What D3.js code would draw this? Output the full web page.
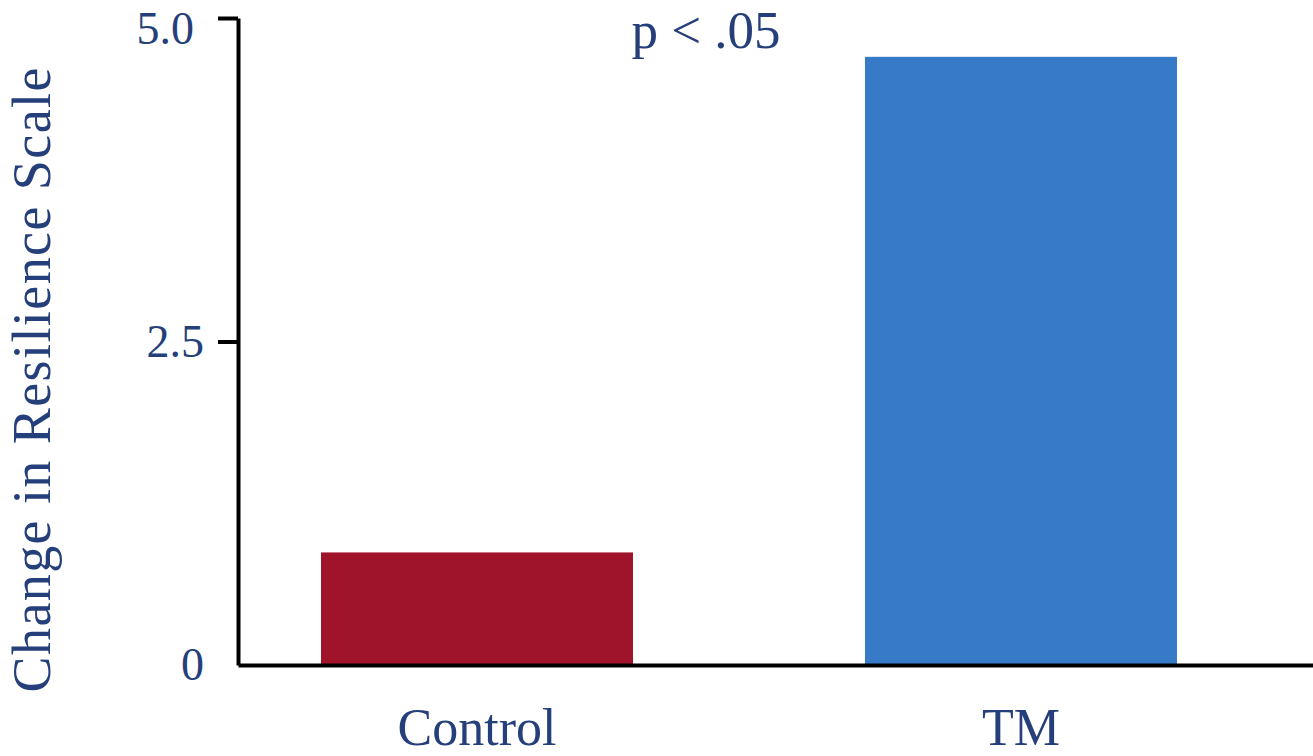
<!DOCTYPE html>
<html>
<head>
<meta charset="utf-8">
<script src="https://cdn.jsdelivr.net/npm/d3@7"></script>
<style>
  html, body { margin: 0; padding: 0; background: #ffffff; }
  svg { display: block; }
</style>
</head>
<body>
<svg id="chart" width="1313" height="756"></svg>
<script>
const categories = ["Control", "TM"];
const values = [0.87, 4.70];
const barColors = ["#A0142B", "#377BC8"];
const yTickValues = [0, 2.5, 5];
const yTickLabels = ["0", "2.5", "5.0"];
const yTitle = "Change in Resilience Scale";
const annotation = "p < .05";

const W = 1313, H = 756;
const textColor = "#253F7A";
const font = "'Liberation Serif', 'DejaVu Serif', serif";
const svg = d3.select("#chart");

const x = d3.scaleBand()
  .domain(categories)
  .range([238, 1313])
  .paddingInner(0.4265)
  .paddingOuter(0.2013)
  .align(0.379);

const y = d3.scaleLinear().domain([0, 5]).range([665, 18]);

// bars
svg.append("g").selectAll("rect")
  .data(categories)
  .join("rect")
  .attr("x", d => x(d))
  .attr("width", x.bandwidth())
  .attr("y", (d, i) => y(values[i]))
  .attr("height", (d, i) => y(0) - y(values[i]))
  .attr("fill", (d, i) => barColors[i]);

// y axis
const yAxis = d3.axisLeft(y)
  .tickValues(yTickValues)
  .tickFormat((d, i) => yTickLabels[i])
  .tickSize(20)
  .tickSizeOuter(0)
  .tickPadding(14);

const gy = svg.append("g").attr("transform", "translate(238,0)").call(yAxis);
gy.select(".domain").attr("stroke", "#000").attr("stroke-width", 4);
gy.selectAll(".tick line").attr("stroke", "#000").attr("stroke-width", 4)
  .filter(d => d === 0).remove();
gy.selectAll(".tick text")
  .attr("fill", textColor)
  .style("font-family", font)
  .style("font-size", "46px");
// top label sits a little lower and further left in the reference
gy.selectAll(".tick text").filter(d => d === 5)
  .attr("dy", "0.55em")
  .attr("dx", "-10");

// x axis
const xAxis = d3.axisBottom(x).tickSize(0).tickSizeOuter(0).tickPadding(43);
const gx = svg.append("g").attr("transform", `translate(0,${y(0)})`).call(xAxis);
gx.select(".domain").attr("stroke", "#000").attr("stroke-width", 4);
gx.selectAll(".tick text")
  .attr("fill", textColor)
  .style("font-family", font)
  .style("font-size", "52px");

// y title
svg.append("text")
  .attr("transform", "translate(50,380) rotate(-90)")
  .attr("text-anchor", "middle")
  .attr("fill", textColor)
  .attr("textLength", 625)
  .attr("lengthAdjust", "spacing")
  .style("font-family", font)
  .style("font-size", "54px")
  .text(yTitle);

// annotation
svg.append("text")
  .attr("x", 706)
  .attr("y", 48)
  .attr("text-anchor", "middle")
  .attr("fill", textColor)
  .style("font-family", font)
  .style("font-size", "53px")
  .text(annotation);
</script>
</body>
</html>
